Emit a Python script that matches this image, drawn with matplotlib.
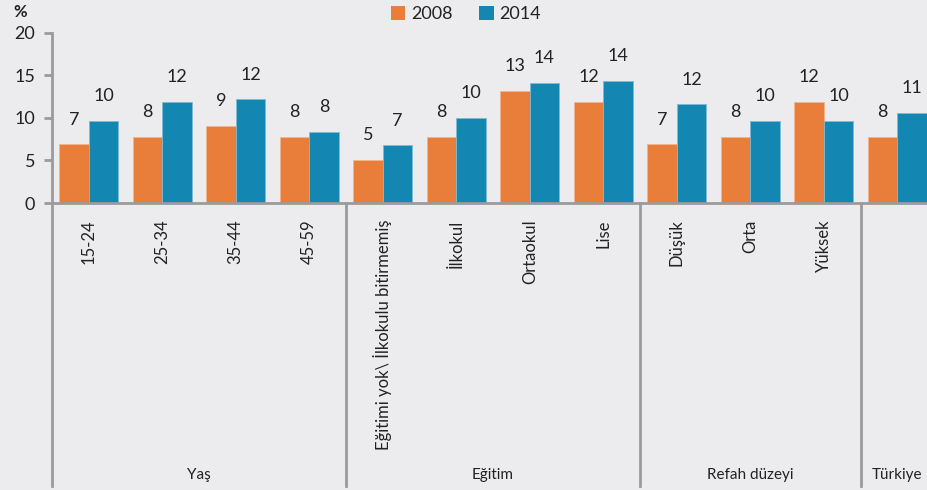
import matplotlib
matplotlib.use("Agg")
import matplotlib.pyplot as plt
import matplotlib.transforms as mtransforms
from matplotlib.patches import Patch
import numpy as np

plt.rcParams['font.family'] = ['Lato', 'DejaVu Sans']

categories = ["15-24", "25-34", "35-44", "45-59",
              "Eğitimi yok\\ İlkokulu bitirmemiş", "İlkokul", "Ortaokul", "Lise",
              "Düşük", "Orta", "Yüksek", ""]
groups = ["Yaş", "Eğitim", "Refah düzeyi", "Türkiye"]
group_sizes = [4, 4, 3, 1]
v2008 = [6.9, 7.8, 9.1, 7.8, 5.1, 7.8, 13.2, 11.9, 6.9, 7.8, 11.9, 7.8]
v2014 = [9.7, 11.9, 12.2, 8.4, 6.8, 10.0, 14.1, 14.4, 11.6, 9.7, 9.7, 10.6]
series_names = ["2008", "2014"]
yticks = [0, 5, 10, 15, 20]

bg = "#ECECEE"
c_or = "#E97D3A"
c_bl = "#1386B1"
grey = "#9B9B9B"
txt = "#222222"

fig = plt.figure(figsize=(9.28, 4.90), dpi=100, facecolor=bg)
W, H = 928, 490
ax = fig.add_axes([52 / W, 287 / H, 882 / W, 170 / H], facecolor=bg)

x = np.arange(len(categories))
bw = 0.4
b1 = ax.bar(x - bw / 2, v2008, bw, color=c_or, edgecolor="#F2B48E", linewidth=0.6, zorder=2)
b2 = ax.bar(x + bw / 2, v2014, bw, color=c_bl, edgecolor="#7FBAD3", linewidth=0.6, zorder=2)
for bars in (b1, b2):
    ax.bar_label(bars, fmt="%.0f", padding=12, fontsize=13, color=txt)

ax.set_xlim(-0.5, len(categories) - 0.5)
ax.set_ylim(0, 20)
ax.set_yticks(yticks)
ax.set_yticklabels([str(t) for t in yticks], fontsize=13, color=txt)
ax.tick_params(axis="y", direction="out", length=6, width=2, color=grey, pad=6)

ax.set_xticks(x)
ax.set_xticklabels(categories, rotation=90, fontsize=12, color=txt, va="top", ha="center")
ax.tick_params(axis="x", length=0, pad=12)

for s in ("top", "right"):
    ax.spines[s].set_visible(False)
for s in ("left", "bottom"):
    ax.spines[s].set_color(grey)
    ax.spines[s].set_linewidth(2)

# group separators and labels
trans = mtransforms.blended_transform_factory(ax.transData, fig.transFigure)
bounds = np.concatenate([[0], np.cumsum(group_sizes)]) - 0.5
for b in bounds[:-1]:
    ax.plot([b, b], [287 / H, 37 / H], transform=trans, color=grey, lw=2, clip_on=False)
    ax.plot([b, b], [35 / H, 4 / H], transform=trans, color=grey, lw=2, clip_on=False)
for g, lo, hi in zip(groups, bounds[:-1], bounds[1:]):
    ax.text((lo + hi) / 2, 15 / H, g, transform=trans, ha="center", va="center",
            fontsize=11, color=txt)

# legend
handles = [Patch(facecolor=c_or), Patch(facecolor=c_bl)]
fig.legend(handles, series_names, loc="center", bbox_to_anchor=(466 / W, 1 - 14 / H),
           ncol=2, frameon=False, fontsize=13, handlelength=0.8, handleheight=0.8,
           handletextpad=0.3, columnspacing=1.5, labelcolor=txt)

fig.text(20 / W, 1 - 12 / H, "%", fontsize=12, fontweight="bold", color=txt,
         ha="center", va="center")

fig.savefig("out.png", dpi=100, facecolor=bg)
